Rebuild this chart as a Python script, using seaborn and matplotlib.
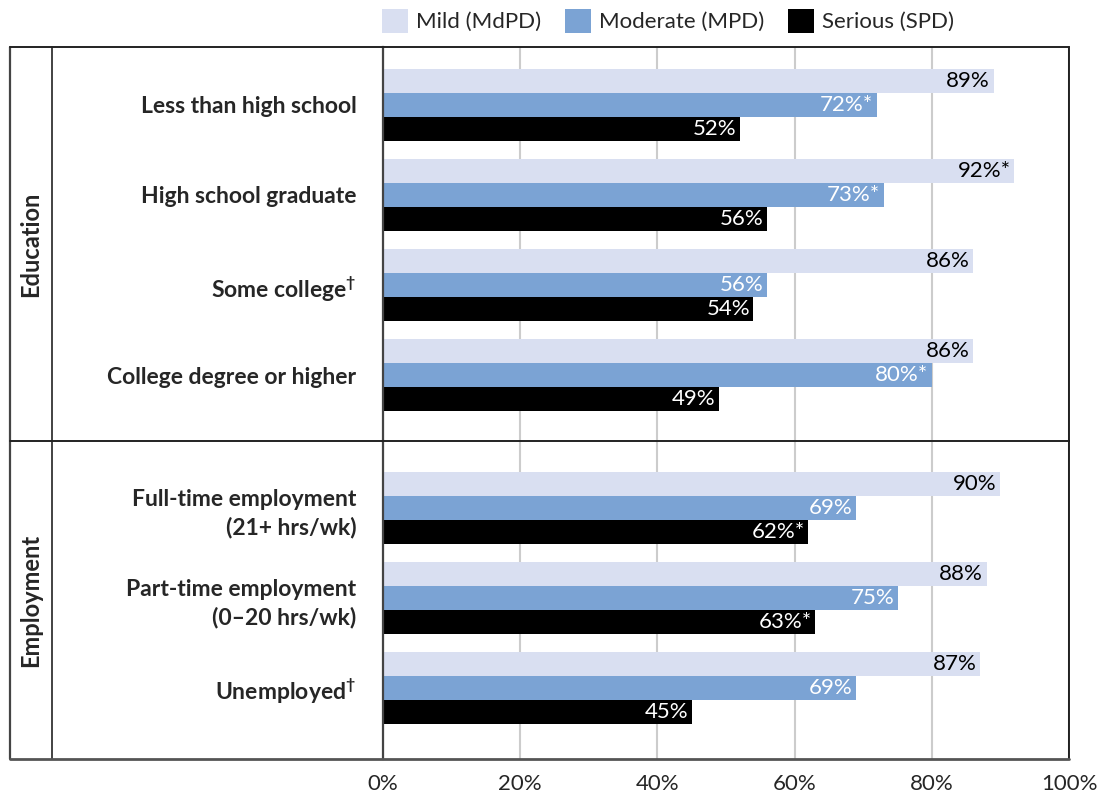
import pandas as pd
import matplotlib.pyplot as plt
import seaborn as sns
from matplotlib.patches import Patch
from matplotlib.lines import Line2D

# values
severity = ["Mild (MdPD)", "Moderate (MPD)", "Serious (SPD)"]
colors = ["#d9dff1", "#7ba3d4", "#000000"]
label_colors = ["black", "white", "white"]

edu_cats = ["Less than high school", "High school graduate",
            "Some college$^{\\mathregular{\u2020}}$", "College degree or higher"]
edu_mild = [89, 92, 86, 86]
edu_moderate = [72, 73, 56, 80]
edu_serious = [52, 56, 54, 49]
edu_mild_txt = ["89%", "92%*", "86%", "86%"]
edu_moderate_txt = ["72%*", "73%*", "56%", "80%*"]
edu_serious_txt = ["52%", "56%", "54%", "49%"]

emp_cats = ["Full-time employment\n(21+ hrs/wk)", "Part-time employment\n(0\u201320 hrs/wk)",
            "Unemployed$^{\\mathregular{\u2020}}$"]
emp_mild = [90, 88, 87]
emp_moderate = [69, 75, 69]
emp_serious = [62, 63, 45]
emp_mild_txt = ["90%", "88%", "87%"]
emp_moderate_txt = ["69%", "75%", "69%"]
emp_serious_txt = ["62%*", "63%*", "45%"]

x_ticks = [0, 20, 40, 60, 80, 100]
x_tick_labels = ["0%", "20%", "40%", "60%", "80%", "100%"]

sns.set_style("white")
plt.rcParams['font.family'] = ['Lato', 'DejaVu Sans']
plt.rcParams['mathtext.fontset'] = 'custom'
plt.rcParams['mathtext.rm'] = 'Lato'

W, H = 1113, 795
fig = plt.figure(figsize=(W / 100, H / 100), dpi=100)


def fx(px):
    return px / W


def fy(py):
    return 1 - py / H


def long_table(cats, mild, moderate, serious):
    rows = []
    for vals, sev in zip([mild, moderate, serious], severity):
        for c, v in zip(cats, vals):
            rows.append({"category": c, "severity": sev, "value": v})
    return pd.DataFrame(rows)


def draw_panel(ax, cats, series, texts, ylim):
    df = long_table(cats, *series)
    sns.barplot(data=df, y="category", x="value", hue="severity", order=cats,
                hue_order=severity, palette=colors, orient="h", width=0.8,
                saturation=1, ax=ax, legend=False, errorbar=None, linewidth=0)
    ax.set_xlim(0, 100)
    ax.set_ylim(*ylim)
    ax.set_xticks(x_ticks)
    ax.grid(axis="x", color="#cccccc", lw=1.5)
    ax.grid(axis="y", visible=False)
    ax.set_axisbelow(True)
    ax.set_ylabel("")
    ax.set_xlabel("")
    ax.tick_params(axis="y", length=0, pad=19, labelsize=16.5)
    for lbl in ax.get_yticklabels():
        lbl.set_fontweight("bold")
    # value labels inside the end of each bar
    for cont, txt, tc in zip(ax.containers, texts, label_colors):
        for patch, t in zip(cont.patches, txt):
            ax.annotate(t, (patch.get_width(), patch.get_y() + patch.get_height() / 2),
                        xytext=(-2.5, 0), textcoords="offset points",
                        ha="right", va="center", color=tc, fontsize=16)
    for s in ax.spines.values():
        s.set_visible(False)
    ax.spines["left"].set_visible(True)
    ax.spines["left"].set_color("#444444")
    ax.spines["left"].set_linewidth(1.6)
    ax.spines["right"].set_visible(True)
    ax.spines["right"].set_color("black")
    ax.spines["right"].set_linewidth(1.2)


x0, x1 = 383, 1069
top, sep, bot = 47, 441, 759

ax_edu = fig.add_axes([fx(x0), fy(sep), fx(x1 - x0), (sep - top) / H])
draw_panel(ax_edu, edu_cats, [edu_mild, edu_moderate, edu_serious],
           [edu_mild_txt, edu_moderate_txt, edu_serious_txt], (3.733, -0.644))
ax_edu.tick_params(axis="x", length=0, labelbottom=False)

ax_emp = fig.add_axes([fx(x0), fy(bot), fx(x1 - x0), (bot - sep) / H])
draw_panel(ax_emp, emp_cats, [emp_mild, emp_moderate, emp_serious],
           [emp_mild_txt, emp_moderate_txt, emp_serious_txt], (2.789, -0.744))
ax_emp.set_xticklabels(x_tick_labels)
ax_emp.tick_params(axis="x", length=0, pad=11, labelsize=16)
for lbl in ax_emp.get_yticklabels():
    lbl.set_linespacing(1.4)

# frame of the table
frame_lines = [
    ([10, 10], [top, bot], "#444444", 1.6),
    ([52, 52], [top, bot], "#222222", 1.2),
    ([10, x1], [top, top], "#222222", 1.4),
    ([10, x1], [sep, sep], "#222222", 1.4),
    ([10, x1], [bot, bot], "#555555", 2.0),
]
for xs, ys, c, lw in frame_lines:
    fig.add_artist(Line2D([fx(v) for v in xs], [fy(v) for v in ys], color=c, lw=lw))

fig.text(fx(31), fy((top + sep) / 2), "Education", rotation=90, ha="center",
         va="center", fontsize=17, fontweight="bold")
fig.text(fx(31), fy((sep + bot) / 2), "Employment", rotation=90, ha="center",
         va="center", fontsize=17, fontweight="bold")

handles = [Patch(facecolor=c, edgecolor="none", label=s) for c, s in zip(colors, severity)]
fig.legend(handles=handles, loc="upper left", bbox_to_anchor=(fx(382), fy(9)),
           ncol=3, frameon=False, fontsize=16, handlelength=1.15, handleheight=1.25,
           handletextpad=0.36, columnspacing=1.1, borderpad=0, borderaxespad=0)

plt.savefig("out.png", dpi=100)
